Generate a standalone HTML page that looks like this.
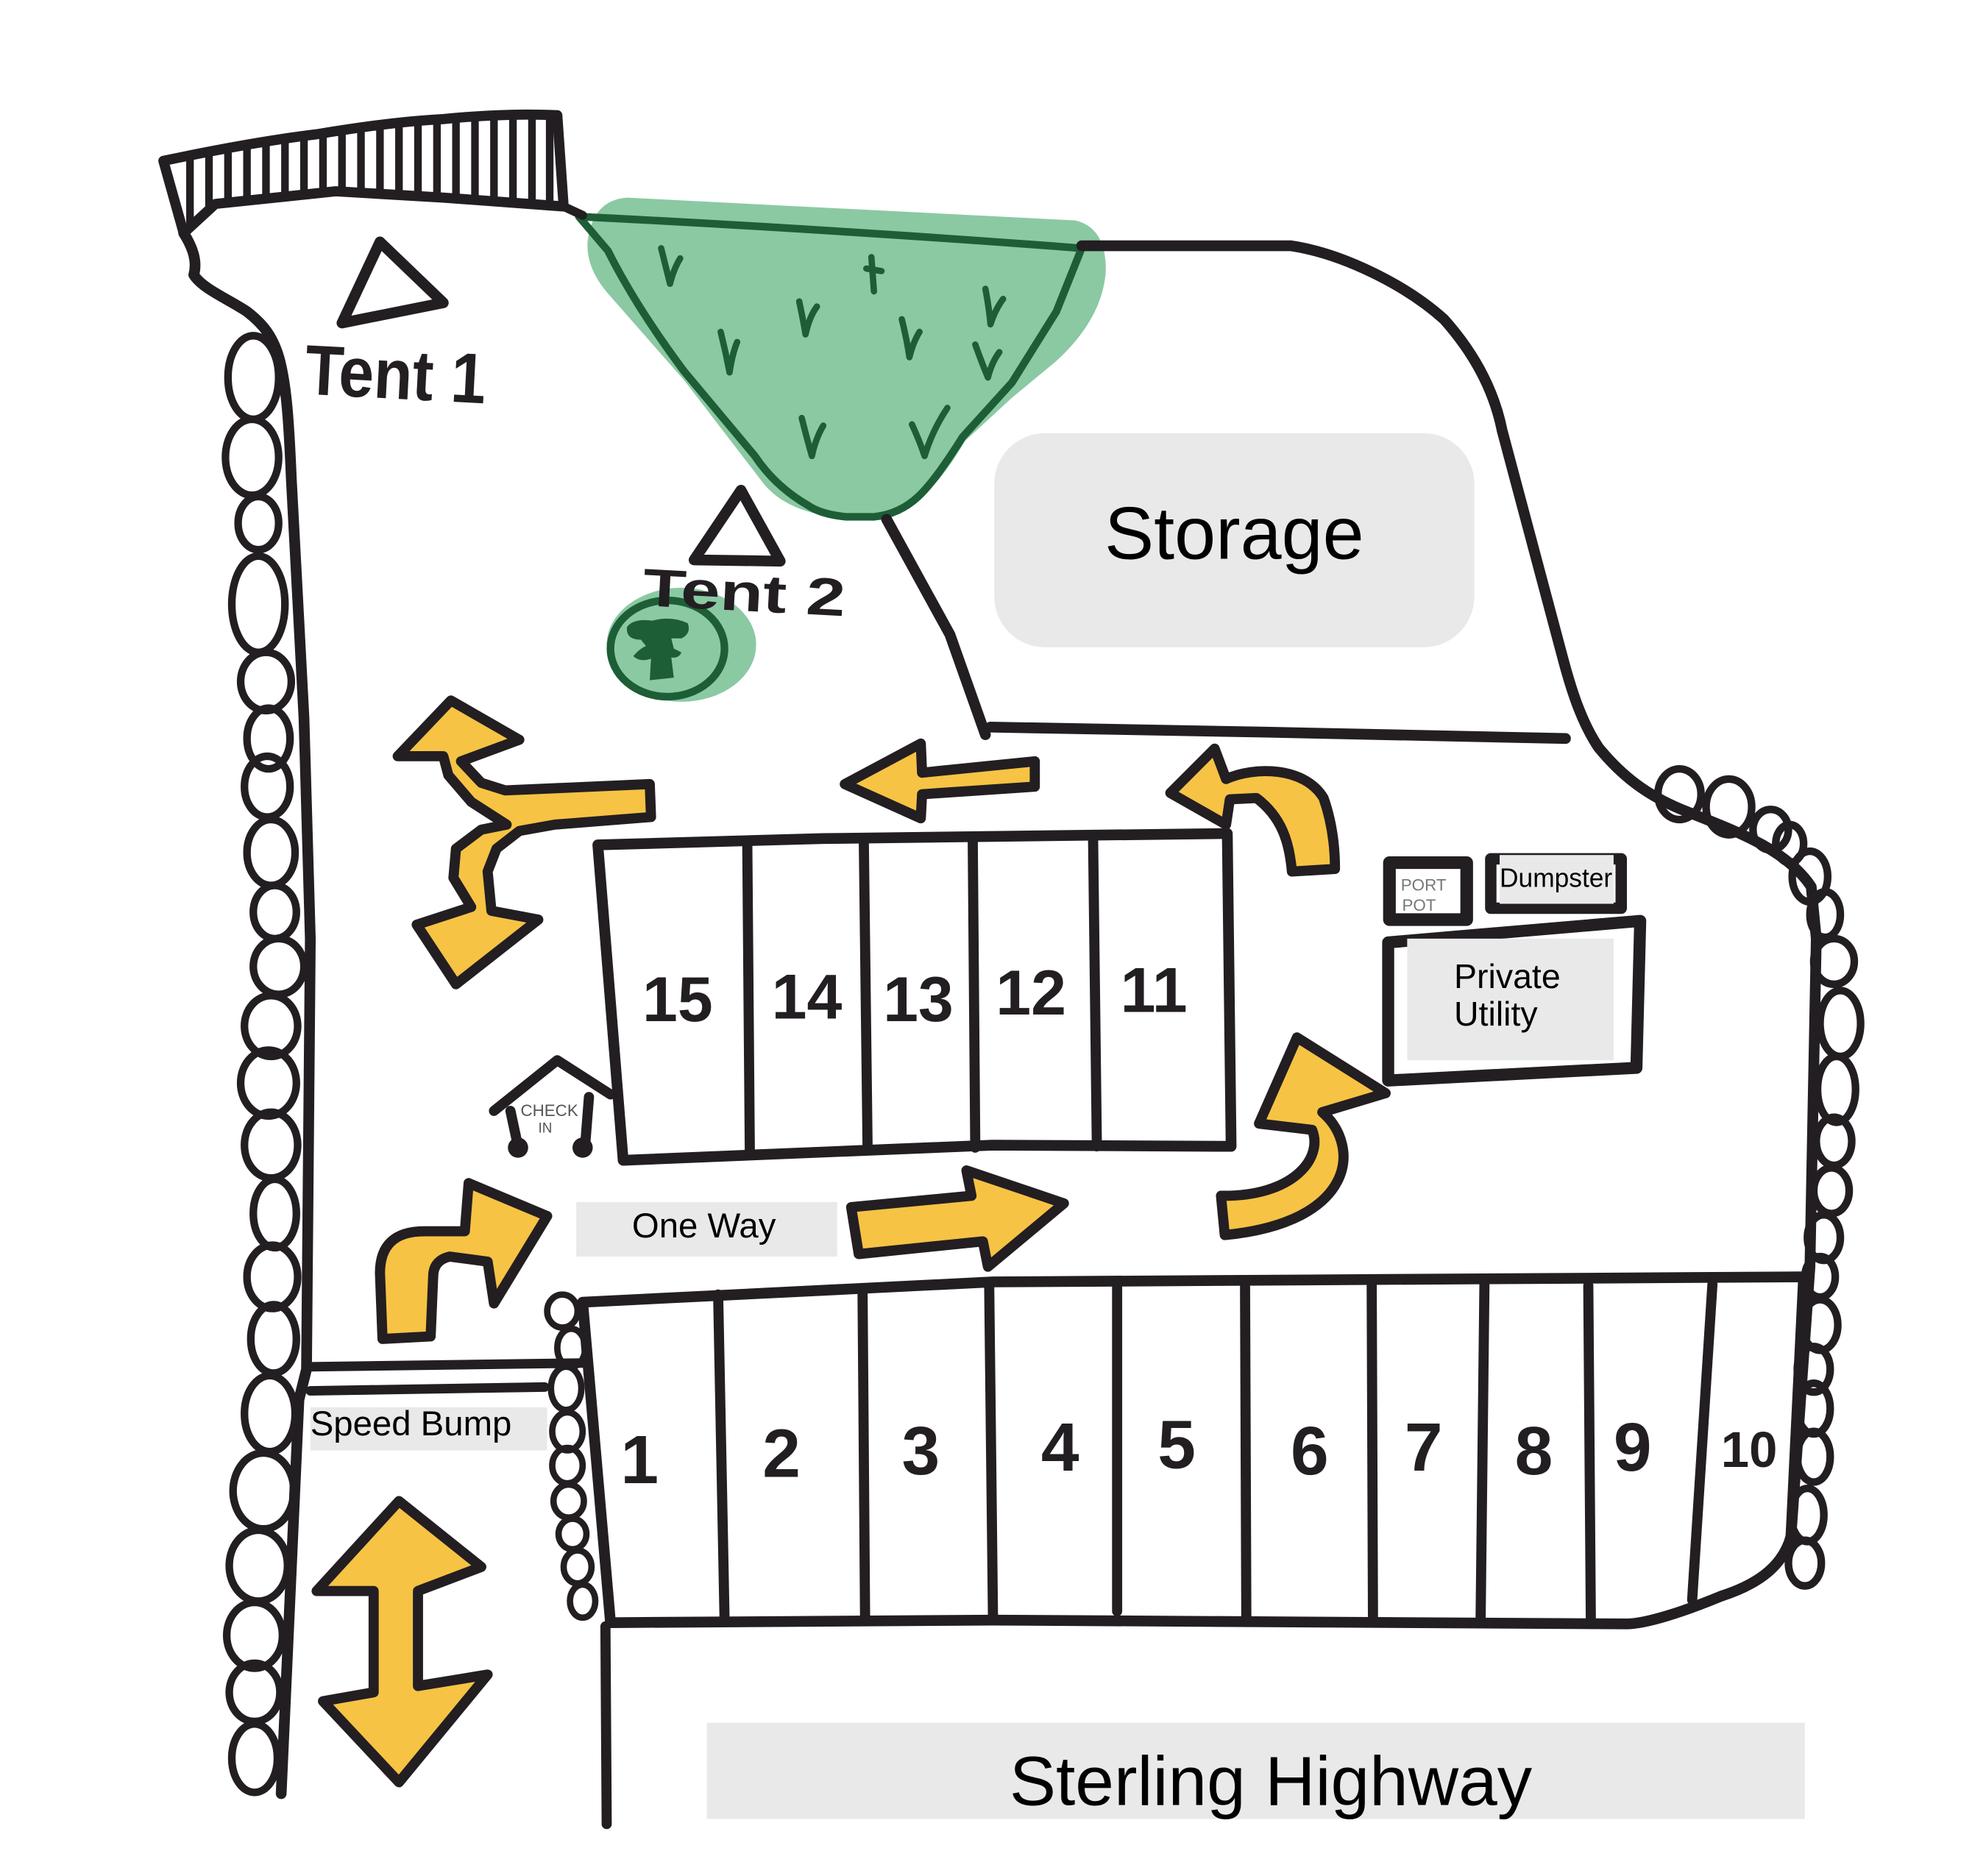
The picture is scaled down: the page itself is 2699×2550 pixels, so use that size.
<!DOCTYPE html>
<html><head><meta charset="utf-8"><style>
html,body{margin:0;padding:0;background:#fff;}
svg{display:block;}
text{font-family:"Liberation Sans",Arial,sans-serif;}
</style></head><body>
<svg width="2699" height="2550" viewBox="0 0 1568 1481" preserveAspectRatio="none" xmlns="http://www.w3.org/2000/svg">
<rect x="0" y="0" width="1568" height="1481" fill="#fff"/>

<!-- green meadow blob -->
<path d="M495,156 L849,174 Q874,180 873,215 Q870,252 834,285 L799,314 L762,348 Q742,382 726,393 Q702,409 652,407 Q616,401 600,378 L540,300 L482,234 Q462,212 464,190 Q468,158 495,156 Z" fill="#8bc9a3"/>
<path d="M457,171 C600,178 750,188 854,196 L834,246 L799,302 L760,345 Q738,380 725,392 Q710,406 690,408 L668,408 Q648,406 638,399 Q612,384 596,360 L540,293 Q502,242 480,198 Z" fill="none" stroke="#1d5e36" stroke-width="6" stroke-linejoin="round"/>
<g fill="none" stroke="#1d5e36" stroke-width="5" stroke-linecap="round">
<path d="M522,196 Q526,212 529,224 M529,224 Q532,212 537,204"/>
<path d="M688,203 L690,230 M684,212 L696,214"/>
<path d="M778,228 Q781,244 782,256 M782,256 Q786,244 792,236"/>
<path d="M569,262 Q573,278 576,294 M576,294 Q578,280 582,270"/>
<path d="M631,238 Q634,252 636,264 M636,264 Q639,250 645,242"/>
<path d="M712,252 Q716,268 718,282 M718,282 Q721,270 726,262"/>
<path d="M770,272 Q775,286 780,298 M780,298 Q783,286 789,278"/>
<path d="M633,330 Q637,346 641,360 M641,360 Q644,346 650,336"/>
<path d="M720,335 Q726,348 730,360 M730,360 Q736,340 748,322"/>
</g>

<!-- storage -->
<rect x="785" y="342" width="379" height="169" rx="40" ry="40" fill="#e9e9e9"/>
<text x="872" y="441" font-size="58.5" fill="#000">Storage</text>

<!-- tree -->
<ellipse cx="538" cy="509" rx="59" ry="45" fill="#8bc9a3"/>
<ellipse cx="527" cy="512" rx="45" ry="38" fill="none" stroke="#1d5e36" stroke-width="6"/>
<path d="M495,495 Q500,488 515,490 Q530,486 543,492 Q546,500 538,504 L530,504 L532,512 L538,515 Q536,520 530,519 L532,535 L513,537 L514,520 Q505,523 500,518 Q505,512 510,510 L506,505 Q494,505 495,495 Z" fill="#1d5e36"/>

<g fill="none" stroke="#221e22" stroke-linecap="round" stroke-linejoin="round">
<!-- hatch band -->
<path d="M129,127 Q200,112 250,106 Q310,96 350,94 Q400,89 440,91 L445,163 L350,156 L265,151 L170,161 L145,184 Z" stroke-width="8"/>
<g stroke-width="6">
<path d="M150,126 V176 M165,123 V162 M180,120 V157 M195,117 V155 M210,115 V153 M225,113 V152 M240,111 V150 M255,108 V149 M270,106 V148 M285,104 V149 M300,102 V150 M315,100 V151 M330,98 V152 M345,97 V152 M360,95 V153 M375,94 V154 M390,93 V155 M405,93 V157 M420,93 V158 M434,94 V159"/>
</g>
<path d="M445,163 L460,170" stroke-width="7"/>

<!-- outer boundary right -->
<path d="M854,194 L1019,194 C1060,200 1110,225 1140,252 C1165,280 1180,310 1186,340 L1234,520 C1242,550 1250,572 1262,590 C1280,612 1300,628 1330,640 C1370,656 1410,670 1430,700 L1434,741 L1429,1000 L1414,1213 C1408,1235 1390,1250 1359,1260 C1330,1272 1300,1282 1284,1282 L784,1279 L482,1281" stroke-width="8.5"/>
<!-- left boundary -->
<path d="M145,184 C152,195 156,206 153,217 C160,228 180,236 195,246 C208,256 216,266 221,285 C226,305 228,330 230,378 L235,472 L240,567 L245,741 L242,1081 L236,1105 L222,1416" stroke-width="8.5"/>
<!-- road inner line -->
<path d="M700,410 L750,501 L778,580 M782,574 L1000,578 L1236,583" stroke-width="8.5"/>
<!-- bottom vertical line -->
<path d="M478,1284 L479,1440" stroke-width="8"/>

<!-- left bubbles -->
<g stroke-width="6">
<ellipse cx="200" cy="298" rx="20" ry="33"/>
<ellipse cx="199" cy="361" rx="21" ry="30"/>
<ellipse cx="204" cy="413" rx="16" ry="21"/>
<ellipse cx="204" cy="477" rx="21" ry="38"/>
<ellipse cx="210" cy="538" rx="20" ry="23"/>
<ellipse cx="212" cy="583" rx="17" ry="24"/>
<ellipse cx="211" cy="621" rx="18" ry="24"/>
<ellipse cx="214" cy="673" rx="19" ry="26"/>
<ellipse cx="217" cy="720" rx="17" ry="21"/>
<ellipse cx="220" cy="763" rx="20" ry="22"/>
<ellipse cx="214" cy="810" rx="21" ry="24"/>
<ellipse cx="212" cy="855" rx="22" ry="26"/>
<ellipse cx="214" cy="904" rx="21" ry="26"/>
<ellipse cx="217" cy="958" rx="17" ry="27"/>
<ellipse cx="215" cy="1008" rx="20" ry="25"/>
<ellipse cx="216" cy="1057" rx="18" ry="27"/>
<ellipse cx="213" cy="1116" rx="20" ry="30"/>
<ellipse cx="208" cy="1177" rx="24" ry="30"/>
<ellipse cx="204" cy="1236" rx="23" ry="28"/>
<ellipse cx="201" cy="1291" rx="22" ry="26"/>
<ellipse cx="201" cy="1336" rx="20" ry="23"/>
<ellipse cx="201" cy="1388" rx="18" ry="27"/>
</g>
<!-- right bubbles -->
<g stroke-width="6">
<ellipse cx="1326" cy="627" rx="17" ry="20"/>
<ellipse cx="1365" cy="637" rx="18" ry="22"/>
<ellipse cx="1398" cy="655" rx="14" ry="16"/>
<ellipse cx="1413" cy="666" rx="11" ry="15"/>
<ellipse cx="1429" cy="692" rx="14" ry="20"/>
<ellipse cx="1441" cy="722" rx="12" ry="18"/>
<ellipse cx="1448" cy="759" rx="16" ry="18"/>
<ellipse cx="1453" cy="808" rx="16" ry="26"/>
<ellipse cx="1450" cy="860" rx="15" ry="26"/>
<ellipse cx="1448" cy="901" rx="14" ry="19"/>
<ellipse cx="1446" cy="940" rx="14" ry="18"/>
<ellipse cx="1440" cy="977" rx="13" ry="18"/>
<ellipse cx="1437" cy="1008" rx="12" ry="16"/>
<ellipse cx="1437" cy="1046" rx="14" ry="20"/>
<ellipse cx="1432" cy="1081" rx="13" ry="18"/>
<ellipse cx="1432" cy="1112" rx="13" ry="20"/>
<ellipse cx="1432" cy="1150" rx="13" ry="20"/>
<ellipse cx="1427" cy="1196" rx="13" ry="21"/>
<ellipse cx="1425" cy="1234" rx="13" ry="18"/>
</g>
<!-- small bubbles left of bottom row -->
<g stroke-width="5">
<ellipse cx="444" cy="1035" rx="12" ry="13"/>
<ellipse cx="451" cy="1064" rx="11" ry="15"/>
<ellipse cx="447" cy="1096" rx="12" ry="17"/>
<ellipse cx="448" cy="1130" rx="12" ry="15"/>
<ellipse cx="448" cy="1157" rx="12" ry="14"/>
<ellipse cx="449" cy="1185" rx="12" ry="13"/>
<ellipse cx="452" cy="1211" rx="11" ry="12"/>
<ellipse cx="456" cy="1237" rx="11" ry="13"/>
<ellipse cx="460" cy="1264" rx="10" ry="13"/>
</g>

<!-- speed bump lines -->
<path d="M245,1079 L462,1076 M245,1098 L430,1095" stroke-width="7.5"/>

<!-- top parking row -->
<path d="M472,667 L650,662 L969,658 L972,905 L784,904 L492,916 Z" stroke-width="8.5"/>
<path d="M590,666 L592,910 M682,664 L685,908 M768,662 L770,906 M863,660 L866,905" stroke-width="8"/>

<!-- bottom parking row -->
<path d="M460,1028 L784,1012 L1424,1008 L1414,1213 M460,1028 L482,1281" stroke-width="8.5"/>
<path d="M567,1022 L572,1276 M681,1018 L683,1277 M781,1015 L784,1278 M882,1016 L882,1272 M983,1016 L984,1276 M1083,1015 L1084,1276 M1172,1014 L1169,1277 M1254,1015 L1256,1279 M1352,1014 L1336,1263" stroke-width="8"/>

<!-- tents -->
<path d="M300,191 L270,255 L350,239 Z" stroke-width="8.5"/>
<path d="M585,387 L548,442 L616,443 Z" stroke-width="8.5"/>

<!-- check-in hut -->
<path d="M390,877 L440,837 L482,864 M403,877 L409,905 M465,866 L462,904" stroke-width="8"/>

<!-- porta potty -->
<rect x="1097" y="681" width="61" height="45" stroke-width="10"/>
<!-- dumpster -->
<rect x="1177" y="678" width="103" height="39" stroke-width="9"/>
<!-- private utility -->
<path d="M1096,744 L1295,727 L1292,843 L1096,853 Z" stroke-width="9.5"/>
</g>

<circle cx="409" cy="906" r="8" fill="#221e22"/>
<circle cx="460" cy="906" r="8" fill="#221e22"/>
<text x="411" y="881" font-size="13" fill="#555">CHECK</text>
<text x="425" y="894" font-size="11" fill="#555">IN</text>

<text x="1106" y="703" font-size="13" fill="#777">PORT</text>
<text x="1107" y="719" font-size="13" fill="#777">POT</text>

<rect x="1184" y="675" width="90" height="38.5" fill="#e9e9e9"/>
<text x="1184" y="700" font-size="21" fill="#000" textLength="89" lengthAdjust="spacingAndGlyphs">Dumpster</text>

<rect x="1111" y="741" width="163" height="96" fill="#e9e9e9"/>
<text x="1148" y="780" font-size="27" fill="#000">Private</text>
<text x="1148" y="809.5" font-size="27" fill="#000">Utility</text>

<!-- yellow arrows -->
<g fill="#f6c344" stroke="#221e22" stroke-width="8" stroke-linejoin="round">
<path d="M356,553 L410,584 L364,601 L380,618 L399,624 L513,619 L514,645 L438,651 L410,656 L392,670 L385,688 L388,719 L425,726 L360,777 L329,730 L372,716 L358,693 L360,670 L380,655 L400,651 L372,633 L354,612 L350,597 L314,597 Z"/>
<path d="M667,619 L727,587 L728,610 L817,601 L817,621 L728,627 L727,646 Z"/>
<path d="M924,626 L959,591 L968,615 C990,605 1030,605 1045,630 C1052,650 1054,670 1054,686 L1020,688 C1018,665 1012,645 992,630 L971,631 L968,651 Z"/>
<path d="M1024,819 L1094,863 L1044,878 C1075,905 1070,965 967,975 L964,944 C1020,945 1045,915 1036,892 L994,887 Z"/>
<path d="M672,953 L767,944 L763,924 L840,950 L780,1000 L776,980 L678,990 Z"/>
<path d="M302,1057 L300,1005 Q300,972 335,972 L367,972 L370,934 L432,960 L390,1029 L385,996 L355,992 Q342,995 342,1008 L340,1055 Z"/>
<path d="M315,1185 L380,1237 L330,1256 L330,1331 L385,1322 L315,1407 L255,1343 L295,1336 L295,1256 L250,1256 Z"/>
</g>

<!-- labels -->
<rect x="455" y="949" width="206" height="43" fill="#e9e9e9"/>
<text x="499" y="977" font-size="27.5" fill="#000">One Way</text>
<rect x="245" y="1111" width="187" height="34" fill="#e9e9e9"/>
<text x="245" y="1133" font-size="27.5" fill="#000">Speed Bump</text>
<rect x="558" y="1360" width="867" height="76" fill="#e9e9e9"/>
<text x="797" y="1425" font-size="55" fill="#000">Sterling Highway</text>

<!-- handwritten labels -->
<g fill="#221e22" font-weight="bold">
<text x="240" y="311" font-size="56" textLength="143" lengthAdjust="spacingAndGlyphs" transform="rotate(3 240 311)">Tent 1</text>
<text x="507" y="478" font-size="42" textLength="160" lengthAdjust="spacingAndGlyphs" transform="rotate(3 507 478)">Tent 2</text>
<g font-size="50" text-anchor="middle">
<text x="535" y="806">15</text>
<text x="637" y="804">14</text>
<text x="725" y="806">13</text>
<text x="814" y="801">12</text>
<text x="911" y="799">11</text>
</g>
<g font-size="54" text-anchor="middle">
<text x="505" y="1171">1</text>
<text x="617" y="1166">2</text>
<text x="727" y="1164">3</text>
<text x="837" y="1161">4</text>
<text x="929" y="1159">5</text>
<text x="1034" y="1164">6</text>
<text x="1124" y="1161">7</text>
<text x="1211" y="1164">8</text>
<text x="1289" y="1161">9</text>
<text x="1381" y="1158" font-size="40">10</text>
</g>
</g>
</svg>
</body></html>
